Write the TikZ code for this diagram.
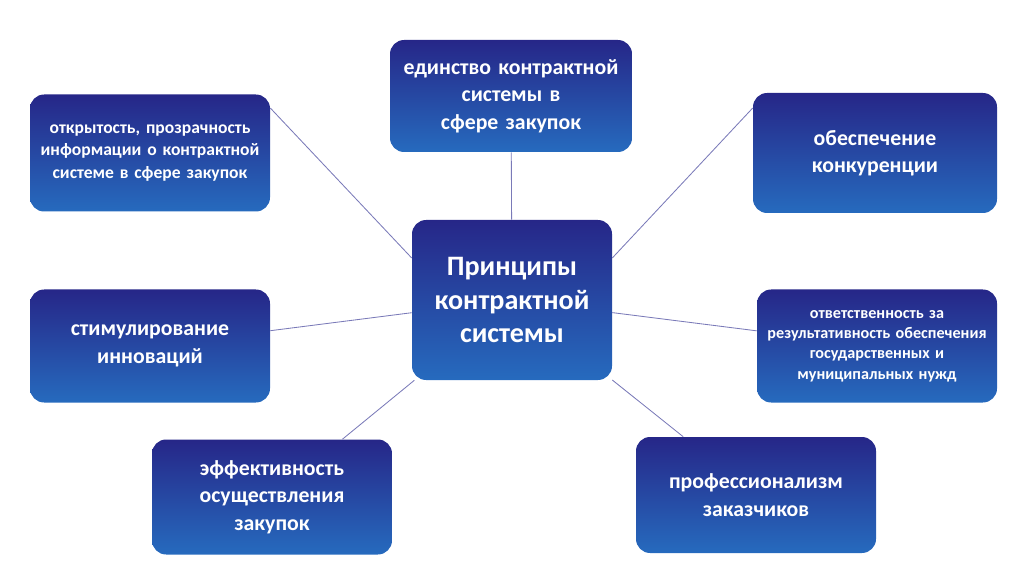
\documentclass[tikz,border=0pt]{standalone}
\usepackage{fontspec}
\setmainfont{Carlito}
\tikzset{
  box/.style={rounded corners=10pt, left color=blue!45!black!85, right color=blue!55!cyan!70!black!85,
    shading angle=0, text=white, font=\bfseries, align=center, inner sep=4pt},
  link/.style={draw=blue!30!gray!80, line width=0.6pt}
}
\begin{document}
\begin{tikzpicture}[x=0.025cm,y=-0.025cm]
\useasboundingbox (0,0) rectangle (1024,576);
\node[box, minimum width=200\pgfpointsep, text width=180*0.025cm, minimum width=200*0.025cm, minimum height=160*0.025cm, font=\bfseries\fontsize{20}{24}\selectfont] (center) at (512,300) {Принципы контрактной системы};
\node[box, text width=220*0.025cm, minimum width=242*0.025cm, minimum height=112*0.025cm, font=\bfseries\fontsize{15.5}{19.5}\selectfont] (unity) at (511,96) {единство контрактной системы в сфере закупок};
\node[box, text width=220*0.025cm, minimum width=240*0.025cm, minimum height=117*0.025cm, font=\bfseries\fontsize{12.5}{16}\selectfont] (open) at (150,153) {открытость, прозрачность информации о контрактной системе в сфере закупок};
\node[box, text width=220*0.025cm, minimum width=244*0.025cm, minimum height=120*0.025cm, font=\bfseries\fontsize{15.5}{19.5}\selectfont] (compet) at (875,153) {обеспечение конкуренции};
\node[box, text width=220*0.025cm, minimum width=240*0.025cm, minimum height=113*0.025cm, font=\bfseries\fontsize{15.5}{19.5}\selectfont] (innov) at (150,346) {стимулирование инноваций};
\node[box, text width=228*0.025cm, minimum width=240*0.025cm, minimum height=113*0.025cm, font=\bfseries\fontsize{11.5}{14.5}\selectfont] (resp) at (877,346) {ответственность за результативность обеспечения государственных и муниципальных нужд};
\node[box, text width=220*0.025cm, minimum width=240*0.025cm, minimum height=115*0.025cm, font=\bfseries\fontsize{15.5}{19.5}\selectfont] (effic) at (272,497) {эффективность осуществления закупок};
\node[box, text width=220*0.025cm, minimum width=240*0.025cm, minimum height=116*0.025cm, font=\bfseries\fontsize{15.5}{19.5}\selectfont] (prof) at (756,495) {профессионализм заказчиков};
\path[link] (unity) -- (center);
\path[link] (open.east) ++(0,45*0.025cm) coordinate (o1) (o1) -- (center.west |- 0,258) ;
\path[link] (compet.west) ++(0,45*0.025cm) coordinate (c1) (c1) -- (center.east |- 0,258);
\path[link] (innov) -- (center);
\path[link] (resp) -- (center);
\path[link] (effic) -- (center);
\path[link] (prof) -- (center);
\end{tikzpicture}
\end{document}
